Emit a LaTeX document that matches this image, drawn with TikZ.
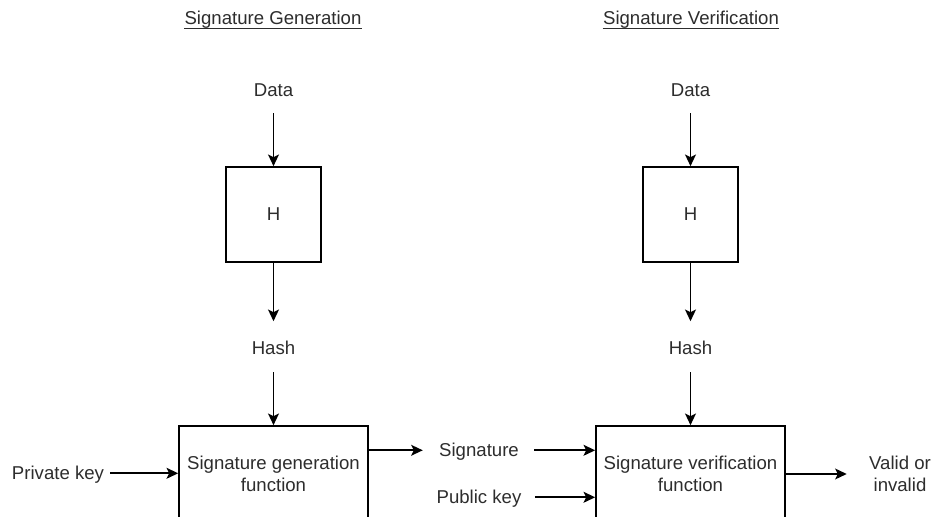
\documentclass[tikz,border=0pt]{standalone}
\usepackage{fontspec}
\setmainfont{Liberation Sans}
\usetikzlibrary{arrows.meta}
\definecolor{txt}{RGB}{45,45,45}
\begin{document}
\begin{tikzpicture}[x=0.5pt,y=-0.5pt,
  fnt/.style={text=txt,font=\fontsize{9.3}{11}\selectfont},
  lbl/.style={fnt,inner sep=0pt,text height=6.66pt,text depth=0pt},
  mlbl/.style={fnt,inner sep=0pt,align=center},
  hbox/.style={draw,line width=0.8pt,minimum width=47.5pt,minimum height=47.5pt,inner sep=0pt,fnt},
  fbox/.style={draw,line width=0.8pt,minimum width=94.5pt,minimum height=48pt,inner sep=0pt,fnt,align=center},
  arr/.style={-{Stealth[length=5.8pt,width=5.4pt,inset=1.3pt]},line width=0.9pt}]
\useasboundingbox (0,0) rectangle (934,517);
\clip (0,0) rectangle (934,517);
\fill[white] (0,0) rectangle (934,517);

% titles
\node[lbl] (t1) at (273,18.3) {Signature Generation};
\node[lbl] (t2) at (691,18.3) {Signature Verification};
\draw[txt,line width=0.5pt] ([yshift=-1.7pt]t1.south west) -- ([yshift=-1.7pt]t1.south east);
\draw[txt,line width=0.5pt] ([yshift=-1.7pt]t2.south west) -- ([yshift=-1.7pt]t2.south east);

% left column
\node[lbl] (d1) at (273.5,90.3) {Data};
\node[hbox] (h1) at (273.5,214.5) {H};
\node[lbl] (hs1) at (273.5,348.3) {Hash};
\node[fbox] (gen) at (273.5,474) {Signature generation\\function};
\node[lbl] (priv) at (58,473.3) {Private key};

% right column
\node[lbl] (d2) at (690.5,90.3) {Data};
\node[hbox] (h2) at (690.5,214.5) {H};
\node[lbl] (hs2) at (690.5,348.3) {Hash};
\node[fbox] (ver) at (690.5,474) {Signature verification\\function};

% middle labels
\node[lbl] (sig) at (479,450.3) {Signature};
\node[lbl] (pub) at (479,497.3) {Public key};
\node[mlbl] (valid) at (900,474.2) {Valid or\\invalid};

% arrows
\draw[arr] ([yshift=-8pt]d1.south) -- (h1.north);
\draw[arr] (h1.south) -- ([yshift=10pt]hs1.north);
\draw[arr] ([yshift=-8.5pt]hs1.south) -- (gen.north);
\draw[arr] ([xshift=3pt]priv.east) -- (gen.west |- priv);

\draw[arr] ([yshift=-8pt]d2.south) -- (h2.north);
\draw[arr] (h2.south) -- ([yshift=10pt]hs2.north);
\draw[arr] ([yshift=-8.5pt]hs2.south) -- (ver.north);

\draw[arr] (gen.east |- sig) -- ([xshift=-8pt]sig.west);
\draw[arr] ([xshift=7.5pt]sig.east) -- (ver.west |- sig);
\draw[arr] ([xshift=6.5pt]pub.east) -- (ver.west |- pub);
\draw[arr,shorten >=11pt] (ver.east) -- (ver.east -| valid.west);
\end{tikzpicture}
\end{document}
